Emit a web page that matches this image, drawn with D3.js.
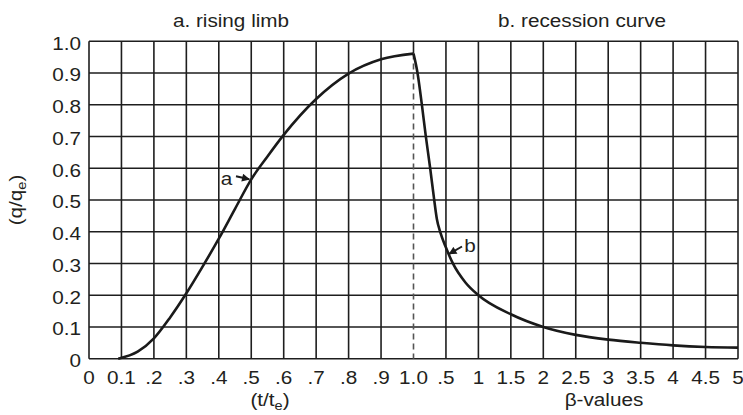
<!DOCTYPE html>
<html><head><meta charset="utf-8">
<script src="https://cdn.jsdelivr.net/npm/d3@7"></script>
<style>
html,body{margin:0;padding:0;background:#fff;}
svg{display:block;}
text{font-family:"Liberation Sans",Arial,Helvetica,sans-serif;fill:#231f20;}
</style></head><body>
<script>
// ---- data ----
const tTicks = [0,0.1,0.2,0.3,0.4,0.5,0.6,0.7,0.8,0.9,1.0];
const tTickLabels = ["0","0.1",".2",".3",".4",".5",".6",".7",".8",".9","1.0"];
const betaTicks = [0.5,1,1.5,2,2.5,3,3.5,4,4.5,5];
const betaTickLabels = [".5","1","1.5","2","2.5","3","3.5","4","4.5","5"];
const qTicks = [0,0.1,0.2,0.3,0.4,0.5,0.6,0.7,0.8,0.9,1.0];
const qTickLabels = ["0","0.1","0.2","0.3","0.4","0.5","0.6","0.7","0.8","0.9","1.0"];

const risingT = [0.09,0.15,0.2,0.25,0.3,0.35,0.4,0.45,0.5,0.55,0.6,0.7,0.8,0.9,1.0];
const risingQ = [0,0.022,0.064,0.13,0.206,0.29,0.378,0.472,0.565,0.637,0.705,0.818,0.898,0.943,0.961];

const recBeta = [0,0.062,0.129,0.19,0.257,0.319,0.36,0.41,0.5,0.607,0.8,1.0,1.5,2,2.5,3,3.5,4,4.5,5];
const recQ    = [0.961,0.9,0.8,0.7,0.6,0.5,0.44,0.4,0.35,0.3,0.24,0.2,0.14,0.1,0.075,0.06,0.05,0.042,0.037,0.035];

const titles = ["a. rising limb","b. recession curve"];

// ---- layout ----
(function(){
const W = 743, H = 415;
const pL = 89, pM = 413.5, pR = 738, pT = 41.2, pB = 358.7;
const FS = 18.5, SX = 1.12;

const xT = d3.scaleLinear().domain([0,1]).range([pL, pM]);
const xB = d3.scaleLinear().domain([0,5]).range([pM, pR]);
const y = d3.scaleLinear().domain([0,1]).range([pB, pT]);

const svg = d3.select("body").append("svg").attr("width", W).attr("height", H);

function label(x, yy, anchor, str) {
  const g = svg.append("g").attr("transform", `translate(${x},${yy}) scale(${SX},1)`);
  return g.append("text").attr("text-anchor", anchor).attr("font-size", FS).text(str);
}

// grid
const grid = svg.append("g").attr("stroke", "#1e1e1e").attr("stroke-width", 1.6).attr("fill", "none");
qTicks.forEach(q => {
  grid.append("line").attr("x1", pL).attr("x2", pR).attr("y1", y(q)).attr("y2", y(q));
});
tTicks.filter(t => t < 1).forEach(t => {
  grid.append("line").attr("x1", xT(t)).attr("x2", xT(t)).attr("y1", pT).attr("y2", pB);
});
betaTicks.forEach(b => {
  grid.append("line").attr("x1", xB(b)).attr("x2", xB(b)).attr("y1", pT).attr("y2", pB);
});
// line at t = 1.0 : solid above the peak, dashed below
const peakQ = risingQ[risingQ.length - 1];
grid.append("line").attr("x1", xT(1)).attr("x2", xT(1)).attr("y1", pT).attr("y2", y(peakQ));
svg.append("line").attr("x1", xT(1)).attr("x2", xT(1)).attr("y1", y(peakQ)).attr("y2", pB)
  .attr("stroke", "#555").attr("stroke-width", 1.6).attr("stroke-dasharray", "6,4");

// tick labels
qTicks.forEach((q, i) => label(81, y(q) + 8.5, "end", qTickLabels[i]));
tTicks.forEach((t, i) => label(xT(t), 383.5, "middle", tTickLabels[i]));
betaTicks.forEach((b, i) => label(xB(b), 383.5, "middle", betaTickLabels[i]));

// titles
label(231, 26.5, "middle", titles[0]);
label(582, 26.5, "middle", titles[1]);

// axis titles
{
  const g = svg.append("g").attr("transform", `translate(270,406) scale(${SX},1)`);
  const t = g.append("text").attr("text-anchor", "middle").attr("font-size", FS);
  t.append("tspan").text("(t/t");
  t.append("tspan").attr("font-size", 13).attr("dy", 4).text("e");
  t.append("tspan").attr("dy", -4).text(")");
}
{
  const g = svg.append("g").attr("transform", `translate(604,406) scale(${SX},1)`);
  g.append("text").attr("text-anchor", "middle").attr("font-size", FS).text("\u03B2-values");
}
{
  const g = svg.append("g").attr("transform", `translate(22,200) rotate(-90) scale(${SX},1)`);
  const t = g.append("text").attr("text-anchor", "middle").attr("font-size", FS);
  t.append("tspan").text("(q/q");
  t.append("tspan").attr("font-size", 13).attr("dy", 4).text("e");
  t.append("tspan").attr("dy", -4).text(")");
}

// curves
const line = d3.line().curve(d3.curveMonotoneX);
svg.append("path")
  .attr("d", line(risingT.map((t, i) => [xT(t), y(risingQ[i])])))
  .attr("fill", "none").attr("stroke", "#1a1a1a").attr("stroke-width", 2.6);
svg.append("path")
  .attr("d", line(recBeta.map((b, i) => [xB(b), y(recQ[i])])))
  .attr("fill", "none").attr("stroke", "#1a1a1a").attr("stroke-width", 2.6);

// annotations with arrows
svg.append("defs").append("marker").attr("id", "ah")
  .attr("viewBox", "0 0 10 10").attr("refX", 9).attr("refY", 5)
  .attr("markerWidth", 4.5).attr("markerHeight", 4).attr("orient", "auto")
  .append("path").attr("d", "M0,0 L10,5 L0,10 Z").attr("fill", "#1a1a1a");

label(226.5, 185, "middle", "a");
svg.append("line").attr("x1", 236).attr("y1", y(0.57) - 1.5).attr("x2", xT(0.5) - 2).attr("y2", y(0.565))
  .attr("stroke", "#1a1a1a").attr("stroke-width", 2).attr("marker-end", "url(#ah)");

label(470, 252, "middle", "b");
svg.append("line").attr("x1", 462).attr("y1", 246.5).attr("x2", xB(0.55)).attr("y2", y(0.33))
  .attr("stroke", "#1a1a1a").attr("stroke-width", 2).attr("marker-end", "url(#ah)");
})();
</script>
</body></html>
